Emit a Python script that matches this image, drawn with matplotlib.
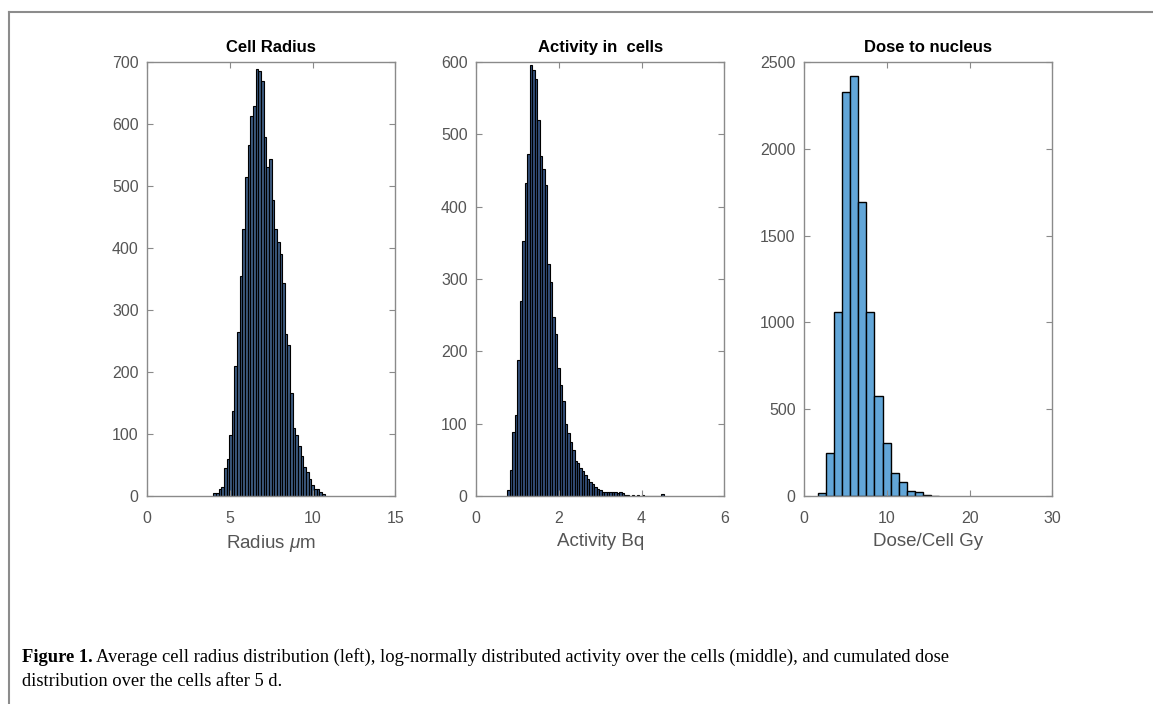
import numpy as np
import matplotlib
matplotlib.use("Agg")
import matplotlib.pyplot as plt
from matplotlib.lines import Line2D

plt.rcParams.update({'font.family': ['Liberation Sans', 'DejaVu Sans'],
                     'mathtext.fontset': 'custom',
                     'mathtext.it': 'Liberation Sans:italic',
                     'mathtext.rm': 'Liberation Sans'})

# cell radius histogram (um), bin width 0.16 starting at 4.0
radius_start, radius_width = 4.0, 0.16
radius_counts = [4, 5, 11, 14, 45, 59, 98, 137, 210, 264, 354, 430, 515, 566,
                 613, 629, 688, 686, 670, 579, 531, 544, 478, 430, 409, 390,
                 343, 262, 244, 166, 109, 98, 80, 64, 47, 39, 27, 17, 12, 11,
                 6, 3]

# activity histogram (Bq), bin width 0.06 starting at 0.76
activity_start, activity_width = 0.76, 0.06
activity_counts = [8, 36, 89, 112, 188, 270, 352, 432, 473, 596, 589, 576,
                   520, 470, 452, 430, 320, 296, 247, 224, 177, 154, 131, 100,
                   87, 75, 63, 48, 45, 38, 34, 29, 23, 20, 17, 12, 9, 8, 6, 6,
                   5, 5, 6, 5, 4, 6, 4, 2, 1, 0, 1, 0, 1, 0, 1, 0, 0, 0, 0, 0,
                   0, 0, 3]

# dose histogram (Gy), bin width 0.97 starting at 1.72
dose_start, dose_width = 1.72, 0.97
dose_counts = [15, 250, 1057, 2325, 2421, 1691, 1057, 573, 307, 131, 83, 29,
               23, 8, 2]

titles = ['Cell Radius', 'Activity in  cells', 'Dose to nucleus']
xlabels = [r'Radius $\mu$m', 'Activity Bq', 'Dose/Cell Gy']
xlims = [(0, 15), (0, 6), (0, 30)]
xticks = [[0, 5, 10, 15], [0, 2, 4, 6], [0, 10, 20, 30]]
ylims = [(0, 700), (0, 600), (0, 2500)]
yticks = [range(0, 701, 100), range(0, 601, 100), range(0, 2501, 500)]

panels = [(radius_start, radius_width, radius_counts, '#3d5a80', 0.8),
          (activity_start, activity_width, activity_counts, '#34507a', 0.8),
          (dose_start, dose_width, dose_counts, '#62a6d8', 1.0)]

fig = plt.figure(figsize=(11.53, 7.04), dpi=100)
lefts = [0.1275, 0.4128, 0.6973]
gray = '#8a8a8a'
tick_col = '#555555'

for i, (start, w, counts, fc, lw) in enumerate(panels):
    ax = fig.add_axes([lefts[i], 0.2955, 0.2155, 0.6165])
    edges = start + w * np.arange(len(counts))
    ax.bar(edges, counts, width=w, align='edge', color=fc,
           edgecolor='black', linewidth=lw)
    ax.set_xlim(xlims[i])
    ax.set_ylim(ylims[i])
    ax.set_xticks(xticks[i])
    ax.set_yticks(list(yticks[i]))
    ax.set_title(titles[i], fontsize=12, fontweight='bold', pad=7)
    ax.set_xlabel(xlabels[i], fontsize=13.5, color='#555555', labelpad=5)
    ax.tick_params(direction='in', length=4, width=0.8, colors=gray,
                   labelcolor=tick_col, labelsize=11.5, top=True, right=True,
                   pad=6)
    ax.tick_params(axis='x', pad=11)
    for s in ax.spines.values():
        s.set_color(gray)
        s.set_linewidth(1.0)

# frame lines around the figure block
fig.add_artist(Line2D([9 / 1153, 1], [1 - 12 / 704, 1 - 12 / 704],
                      transform=fig.transFigure, color='#8c8c8c', lw=1.5))
fig.add_artist(Line2D([9 / 1153, 9 / 1153], [0, 1 - 12 / 704],
                      transform=fig.transFigure, color='#8c8c8c', lw=1.5))

cap_font = 'Liberation Serif'
cap_size = 13.3
t = fig.text(22 / 1153, 1 - 657 / 704, 'Figure 1.', fontsize=cap_size,
             fontweight='bold', family=cap_font, va='center')
fig.canvas.draw()
bb = t.get_window_extent()
fig.text(bb.x1 / 1153 + 0.003, 1 - 657 / 704,
         'Average cell radius distribution (left), log-normally distributed '
         'activity over the cells (middle), and cumulated dose',
         fontsize=cap_size, family=cap_font, va='center')
fig.text(22 / 1153, 1 - 681 / 704,
         'distribution over the cells after 5 d.',
         fontsize=cap_size, family=cap_font, va='center')

fig.savefig('out.png', dpi=100)
